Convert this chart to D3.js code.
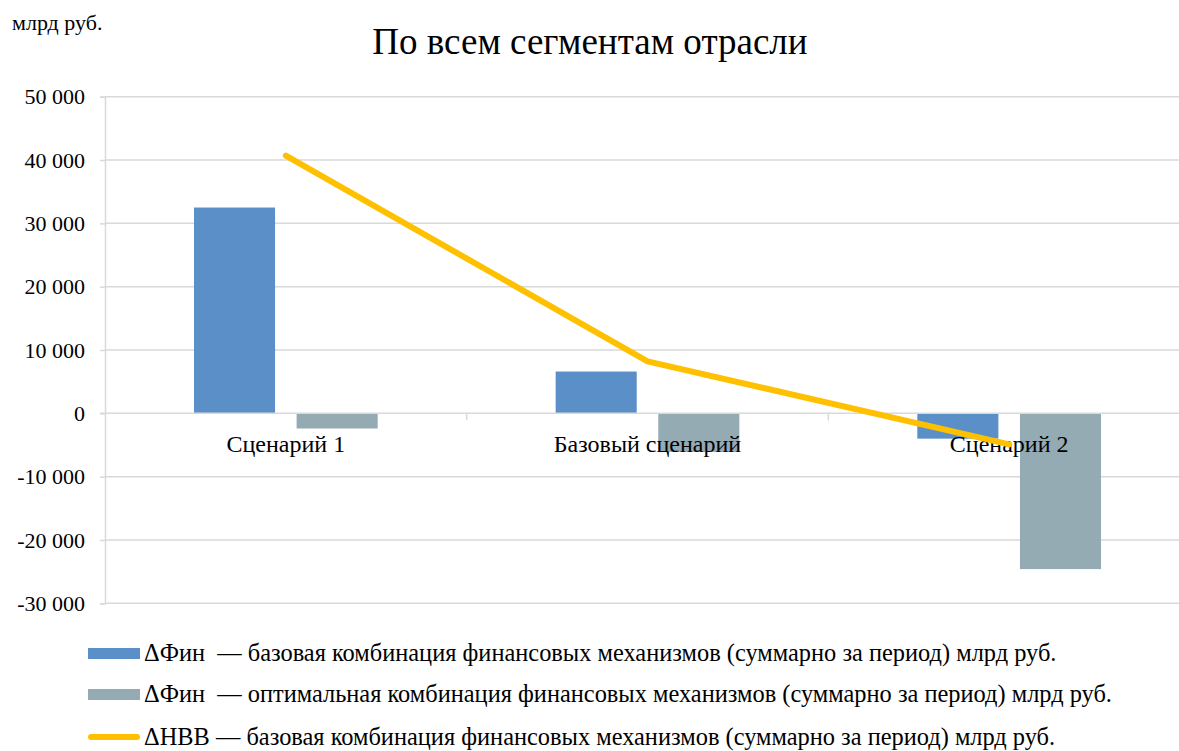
<!DOCTYPE html>
<html>
<head>
<meta charset="utf-8">
<script src="https://cdn.jsdelivr.net/npm/d3@7"></script>
<style>
  html, body { margin: 0; padding: 0; background: #fff; }
  svg { display: block; overflow: hidden; }
  text { font-family: "Liberation Serif", "Times New Roman", serif; fill: #000; }
</style>
</head>
<body>
<svg id="chart" width="1179" height="751"></svg>
<script>
// Scenario categories along the x axis
const categories = ["Сценарий 1", "Базовый сценарий", "Сценарий 2"];
// ΔФин, base combination of financing mechanisms (bn RUB)
const finBase = [32500, 6600, -4000];
// ΔФин, optimal combination of financing mechanisms (bn RUB)
const finOptimal = [-2400, -6100, -24600];
// ΔНВВ, base combination (bn RUB)
const nvvBase = [40700, 8200, -4900];
// Value axis ticks
const yTicks = [-30000, -20000, -10000, 0, 10000, 20000, 30000, 40000, 50000];

const legendLabels = [
  "ΔФин  — базовая комбинация финансовых механизмов (суммарно за период) млрд руб.",
  "ΔФин  — оптимальная комбинация финансовых механизмов (суммарно за период) млрд руб.",
  "ΔНВВ — базовая комбинация финансовых механизмов (суммарно за период) млрд руб."
];

const colors = { base: "#5b8fc8", optimal: "#94abb4", line: "#ffc000", grid: "#d9d9d9" };

const svg = d3.select("#chart");
const plot = { left: 105, right: 1190, top: 96.7, bottom: 603.3 };

const x = d3.scaleBand().domain(categories).range([plot.left, plot.right]).padding(0);
const xSub = d3.scaleBand().domain(["base", "optimal"])
  .range([0, x.bandwidth()]).paddingInner(0.21).paddingOuter(0.867);
const y = d3.scaleLinear().domain([-30000, 50000]).range([plot.bottom, plot.top]);

const fmt = v => d3.format(",")(v).replace(/,/g, " ").replace("−", "-");

// Horizontal gridlines and y axis labels
const yAxis = d3.axisLeft(y).tickValues(yTicks).tickSize(5).tickPadding(15).tickFormat(fmt);
const gy = svg.append("g").attr("transform", `translate(${plot.left},0)`).call(yAxis);
gy.attr("font-family", null);
gy.select(".domain").attr("stroke", colors.grid).attr("stroke-width", 1.5);
gy.selectAll(".tick line").attr("stroke", colors.grid).attr("stroke-width", 1.5);
gy.selectAll(".tick text").attr("font-size", 22).attr("fill", "#000");

svg.append("g").selectAll("line.grid")
  .data(yTicks.filter(v => v !== 0))
  .join("line")
  .attr("x1", plot.left).attr("x2", plot.right)
  .attr("y1", d => y(d)).attr("y2", d => y(d))
  .attr("stroke", colors.grid).attr("stroke-width", 1.5);

// Bars
const groups = svg.append("g").selectAll("g")
  .data(categories.map((c, i) => ({ c, base: finBase[i], optimal: finOptimal[i] })))
  .join("g")
  .attr("transform", d => `translate(${x(d.c)},0)`);

groups.selectAll("rect")
  .data(d => [{ k: "base", v: d.base }, { k: "optimal", v: d.optimal }])
  .join("rect")
  .attr("x", d => xSub(d.k))
  .attr("width", xSub.bandwidth())
  .attr("y", d => y(Math.max(0, d.v)))
  .attr("height", d => Math.abs(y(d.v) - y(0)))
  .attr("fill", d => colors[d.k]);

// Zero line with category separators
svg.append("line")
  .attr("x1", plot.left - 5).attr("x2", plot.right)
  .attr("y1", y(0)).attr("y2", y(0))
  .attr("stroke", colors.grid).attr("stroke-width", 1.5);
svg.append("g").selectAll("line")
  .data(categories.slice(1))
  .join("line")
  .attr("x1", d => x(d)).attr("x2", d => x(d))
  .attr("y1", y(0)).attr("y2", y(0) + 7)
  .attr("stroke", colors.grid).attr("stroke-width", 1.5);

// Category labels
svg.append("g").selectAll("text")
  .data(categories)
  .join("text")
  .attr("x", d => x(d) + x.bandwidth() / 2)
  .attr("y", 452)
  .attr("text-anchor", "middle")
  .attr("font-size", 24)
  .text(d => d);

// ΔНВВ line
const line = d3.line()
  .x((d, i) => x(categories[i]) + x.bandwidth() / 2)
  .y(d => y(d));
svg.append("path")
  .datum(nvvBase)
  .attr("d", line)
  .attr("fill", "none")
  .attr("stroke", colors.line)
  .attr("stroke-width", 6)
  .attr("stroke-linecap", "round")
  .attr("stroke-linejoin", "round");

// Title and unit label
svg.append("text")
  .attr("x", 590).attr("y", 54)
  .attr("text-anchor", "middle")
  .attr("font-size", 37)
  .text("По всем сегментам отрасли");
svg.append("text")
  .attr("x", 12).attr("y", 30)
  .attr("font-size", 22)
  .text("млрд руб.");

// Legend
const legend = svg.append("g");
const rows = [653, 694, 737];
legendLabels.forEach((label, i) => {
  const g = legend.append("g").attr("transform", `translate(0,${rows[i]})`);
  if (i < 2) {
    g.append("rect").attr("x", 88).attr("y", -5).attr("width", 52).attr("height", 11)
      .attr("fill", i === 0 ? colors.base : colors.optimal);
  } else {
    g.append("line").attr("x1", 91).attr("x2", 137).attr("y1", 0).attr("y2", 0)
      .attr("stroke", colors.line).attr("stroke-width", 6).attr("stroke-linecap", "round");
  }
  g.append("text").attr("x", 144).attr("y", 8).attr("font-size", 24.4)
    .style("white-space", "pre").text(label);
});
</script>
</body>
</html>
